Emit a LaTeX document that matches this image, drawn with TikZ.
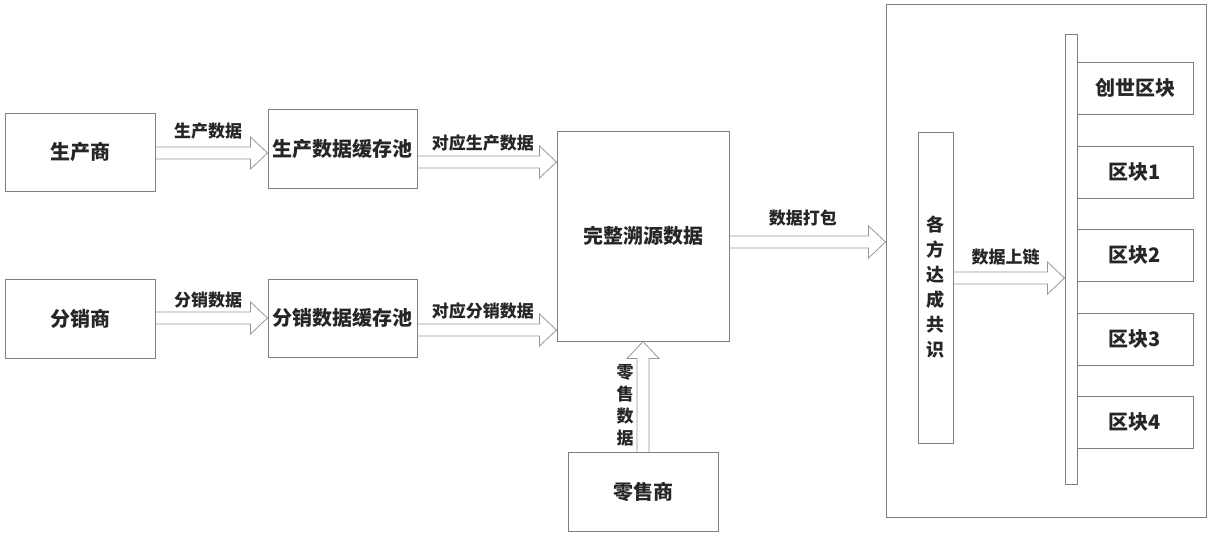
\documentclass[tikz,border=0pt]{standalone}
\usepackage{fontspec}
\setmainfont{Noto Sans CJK SC}
\usetikzlibrary{calc}
\definecolor{boxgray}{RGB}{128,128,128}
\definecolor{arrgray}{RGB}{150,150,150}
\definecolor{txtgray}{RGB}{38,38,38}
\newcommand{\fatarrow}[4]{%
\coordinate (fa) at (#1);
\coordinate (fb) at (#2);
\coordinate (fc) at ($(fb)!17pt!(fa)$);
\draw[fatline] ($(fa)!6pt!90:(fb)$) -- ($(fc)!6pt!-90:(fa)$) -- ($(fc)!16pt!-90:(fa)$)
  -- (fb) -- ($(fc)!16pt!90:(fa)$) -- ($(fc)!6pt!90:(fa)$) -- ($(fa)!6pt!-90:(fb)$);
\node[lbl,#3] at ($(fa)!0.47!(fb)$) {#4};
}
\tikzset{
box/.style={draw=boxgray, line width=1pt, inner sep=0pt, text=txtgray,
  font=\fontsize{20pt}{24pt}\selectfont\bfseries},
fatline/.style={draw=arrgray, line width=0.8pt},
lbl/.style={inner sep=0pt, align=center, text=txtgray,
  font=\fontsize{17pt}{22pt}\selectfont\bfseries},
}
\begin{document}
\begin{tikzpicture}[x=1pt,y=-1pt]
\useasboundingbox (0,0) rectangle (1209,539);
\node[box, minimum width=150pt, minimum height=78pt] (p) at (80,152) {生产商};
\node[box, minimum width=150pt, minimum height=79pt] (d) at (80,318.5) {分销商};
\node[box, minimum width=149pt, minimum height=79pt] (pp) at (342.5,148.5) {生产数据缓存池};
\node[box, minimum width=149pt, minimum height=78pt] (dp) at (342.5,318) {分销数据缓存池};
\node[box, minimum width=172pt, minimum height=210pt] (f) at (643,236) {完整溯源数据};
\node[box, minimum width=150pt, minimum height=79pt] (r) at (643,491.5) {零售商};
\node[box, minimum width=320pt, minimum height=513pt] (big) at (1046,260.5) {};
\node[box, minimum width=35pt, minimum height=311pt, align=center,
  font=\fontsize{18pt}{25pt}\selectfont\bfseries] (c) at (935.5,287.5) {各\\方\\达\\成\\共\\识};
\node[box, minimum width=12pt, minimum height=450pt] (ch) at (1071,259) {};
\node[box, minimum width=116pt, minimum height=52pt] (b0) at (1135,88) {创世区块};
\node[box, minimum width=116pt, minimum height=52pt] (b1) at (1135,172) {区块1};
\node[box, minimum width=116pt, minimum height=52pt] (b2) at (1135,255.5) {区块2};
\node[box, minimum width=116pt, minimum height=52pt] (b3) at (1135,339) {区块3};
\node[box, minimum width=116pt, minimum height=52pt] (b4) at (1135,422.5) {区块4};
\fatarrow{p.east |- 0,153}{pp.west |- 0,153}{yshift=22pt}{生产数据}
\fatarrow{pp.east |- 0,162}{f.west |- 0,162}{yshift=19pt}{对应生产数据}
\fatarrow{d.east |- 0,318}{dp.west |- 0,318}{yshift=18pt}{分销数据}
\fatarrow{dp.east |- 0,330}{f.west |- 0,330}{yshift=19pt}{对应分销数据}
\fatarrow{r.north}{r.north |- f.south}{xshift=-18pt,yshift=-6pt}{零\\售\\数\\据}
\fatarrow{f.east |- 0,242}{big.west |- 0,242}{yshift=24pt}{数据打包}
\fatarrow{c.east |- 0,278}{ch.west |- 0,278}{yshift=21pt}{数据上链}
\end{tikzpicture}
\end{document}
